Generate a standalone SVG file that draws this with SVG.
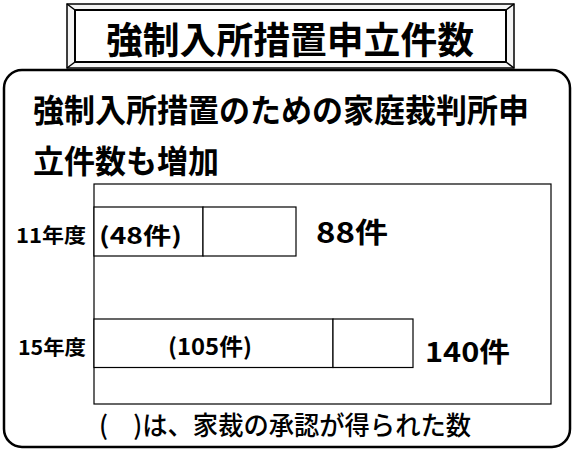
<svg xmlns="http://www.w3.org/2000/svg" width="573" height="450" viewBox="0 0 573 450">
<style>
.t{font-family:"Noto Sans CJK JP","Noto Sans CJK SC",sans-serif;font-weight:bold;fill:#000}
.m{font-family:"Noto Sans CJK JP","Noto Sans CJK SC",sans-serif;font-weight:500;fill:#000}
.ln{fill:none;stroke:#000;stroke-width:1.5}
.bar{fill:#fff;stroke:#000;stroke-width:1.2}
</style>
<rect width="573" height="450" fill="#fff"/>
<g id="panel">
<rect x="4" y="70" width="566" height="377" rx="18" ry="18" fill="#fff" stroke="#000" stroke-width="2.5"/>
</g>
<g id="title">
<rect x="67" y="4" width="447" height="64" fill="#f4f4f4" stroke="#000" stroke-width="1.5"/>
<rect x="75" y="10" width="431" height="52" fill="#fff" stroke="#000" stroke-width="2"/>
<path class="ln" d="M67 4L75 10M514 4L506 10M67 68L75 62M514 68L506 62"/>
<text class="t" x="290" y="54" font-size="37" text-anchor="middle" textLength="368" lengthAdjust="spacingAndGlyphs">強制入所措置申立件数</text>
</g>
<g id="headline">
<text class="t" x="33" y="122" font-size="32" textLength="496" lengthAdjust="spacingAndGlyphs">強制入所措置のための家庭裁判所申</text>
<text class="t" x="33" y="173" font-size="32" textLength="186" lengthAdjust="spacingAndGlyphs">立件数も増加</text>
</g>
<g id="chart">
<rect x="94" y="184" width="457" height="220" fill="#fff" stroke="#000" stroke-width="1.2"/>
</g>
<g id="bar11">
<rect class="bar" x="94" y="207" width="109" height="49"/>
<rect class="bar" x="203" y="207" width="93" height="49"/>
<text class="t" x="16" y="243" font-size="20" textLength="70" lengthAdjust="spacingAndGlyphs">11年度</text>
<text class="t" x="99" y="244" font-size="23" textLength="83" lengthAdjust="spacingAndGlyphs">(48件)</text>
<text class="t" x="316" y="243" font-size="28" textLength="72" lengthAdjust="spacingAndGlyphs">88件</text>
</g>
<g id="bar15">
<rect class="bar" x="94" y="319" width="239" height="48.5"/>
<rect class="bar" x="333" y="319" width="80" height="48.5"/>
<text class="t" x="18" y="355" font-size="20" textLength="68" lengthAdjust="spacingAndGlyphs">15年度</text>
<text class="t" x="168" y="355" font-size="23" textLength="84" lengthAdjust="spacingAndGlyphs">(105件)</text>
<text class="t" x="425" y="362" font-size="27" textLength="85" lengthAdjust="spacingAndGlyphs">140件</text>
</g>
<g id="note">
<text class="m" x="99" y="435" font-size="26" textLength="372" lengthAdjust="spacingAndGlyphs">(　)は、家裁の承認が得られた数</text>
</g>
<g id="connectors"></g>
</svg>
